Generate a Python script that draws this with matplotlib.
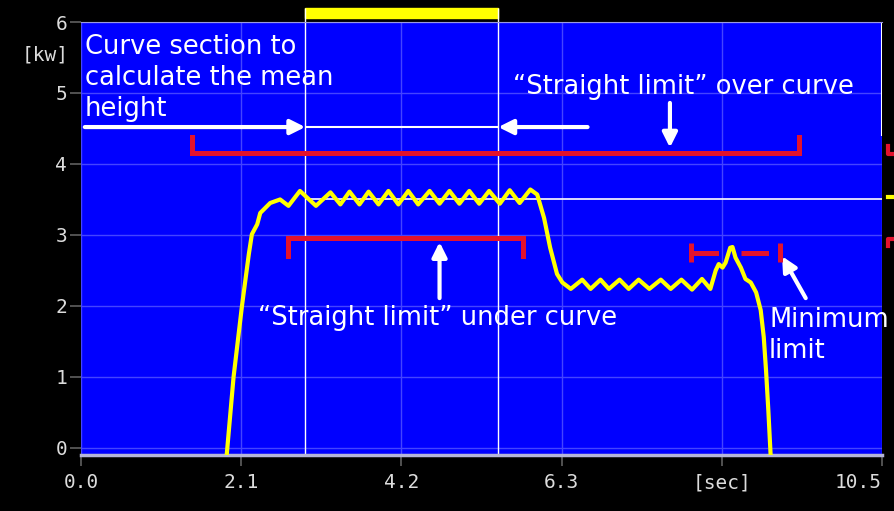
import matplotlib
matplotlib.use('Agg')
import matplotlib.pyplot as plt
from matplotlib.patches import Rectangle
from matplotlib.lines import Line2D

# power curve (time in sec, power in kW)
curve_t = [1.91, 2.00, 2.11, 2.20, 2.24, 2.31, 2.35, 2.48, 2.61, 2.72, 2.87,
           3.08, 3.27, 3.40, 3.52, 3.65, 3.77, 3.90, 4.03, 4.16, 4.29, 4.42,
           4.57, 4.70, 4.83, 4.96, 5.09, 5.22, 5.35, 5.49, 5.62, 5.75, 5.89,
           5.98, 6.07, 6.15, 6.24, 6.31, 6.42, 6.57, 6.68, 6.81, 6.92, 7.06,
           7.18, 7.31, 7.45, 7.60, 7.73, 7.87, 8.01, 8.14, 8.25, 8.32, 8.36,
           8.41, 8.45, 8.51, 8.54, 8.58, 8.65, 8.71, 8.78, 8.85, 8.91, 8.95,
           8.98, 9.01, 9.04]
curve_kw = [-0.1, 1.0, 2.0, 2.73, 3.01, 3.15, 3.31, 3.45, 3.50, 3.41, 3.62,
            3.41, 3.60, 3.43, 3.61, 3.43, 3.61, 3.43, 3.62, 3.43, 3.62, 3.43,
            3.62, 3.44, 3.62, 3.44, 3.62, 3.44, 3.62, 3.44, 3.63, 3.45, 3.64,
            3.57, 3.24, 2.82, 2.45, 2.33, 2.24, 2.37, 2.24, 2.37, 2.24, 2.37,
            2.24, 2.37, 2.24, 2.37, 2.24, 2.37, 2.23, 2.38, 2.24, 2.50, 2.59,
            2.54, 2.61, 2.82, 2.83, 2.68, 2.54, 2.38, 2.33, 2.19, 1.94, 1.56,
            1.09, 0.53, -0.1]

x_ticks = [0.0, 2.1, 4.2, 6.3, 8.4, 10.5]
x_labels = ['0.0', '2.1', '4.2', '6.3', '[sec]', '10.5']
y_ticks = [0, 1, 2, 3, 4, 5, 6]

section = [2.94, 5.47]          # curve section for the mean height
mean_height = 3.5
over_limit = [1.46, 9.41, 4.15]   # x from, x to, level
under_limit = [2.72, 5.80, 2.96]
min_limit = [8.0, 9.16, 2.75]

red = '#e3122d'
mono = 'DejaVu Sans Mono'
fs = 18.5

fig = plt.figure(figsize=(8.95, 5.11), dpi=100, facecolor='black')
ax = fig.add_axes([81/895, 56/511, 801/895, 433/511])
ax.set_facecolor('#0000ff')
ax.set_xlim(0, 10.5)
ax.set_ylim(-0.1, 6)
ax.set_xticks(x_ticks, x_labels)
ax.set_yticks(y_ticks)
ax.grid(color='#4444ff', lw=1)
ax.set_axisbelow(True)
for s in ['left', 'right']:
    ax.spines[s].set_visible(False)
ax.spines['top'].set_color('#9a9ae0')
ax.spines['bottom'].set_color('#b4b4d8')
ax.spines['bottom'].set_linewidth(2.5)
ax.tick_params(colors='#606060', length=8, width=1.2, labelcolor='#dcdcdc',
               labelsize=14)
ax.tick_params(axis='y', pad=2)
ax.tick_params(axis='x', pad=5)
for lab in ax.get_xticklabels() + ax.get_yticklabels():
    lab.set_family(mono)
ax.get_xticklabels()[-1].set_ha('right')
fig.text(45/895, 1 - 55/511, '[kw]', color='#dcdcdc', family=mono,
         fontsize=14, ha='center', va='center')

# mean height line and section markers
ax.hlines(mean_height, section[0], 10.5, colors='white', lw=1.2, zorder=2)
ax.vlines(section, -0.1, 6.2, colors='white', lw=1, clip_on=False, zorder=2)
ax.add_patch(Rectangle((section[0], 6.06), section[1] - section[0], 0.14,
                       color='#ffff00', clip_on=False))
ax.vlines(10.5, 4.4, 6, colors='white', lw=1.5)

ax.plot(curve_t, curve_kw, color='#ffff00', lw=3, solid_joinstyle='round',
        zorder=3)

# red limits
x0, x1, y = over_limit
ax.plot([x0, x0, x1, x1], [y + 0.23, y, y, y + 0.23], color=red, lw=3.6,
        solid_joinstyle='miter', zorder=4)
x0, x1, y = under_limit
ax.plot([x0, x0, x1, x1], [y - 0.26, y, y, y - 0.26], color=red, lw=3.6,
        solid_joinstyle='miter', zorder=4)
x0, x1, y = min_limit
ax.plot([x0, x1], [y, y], color=red, lw=3.6, dashes=(5.5, 4.5), zorder=4)
ax.vlines([x0, x1], y - 0.13, y + 0.13, colors=red, lw=3.6, zorder=4)

# arrows
arrow = dict(arrowstyle='-|>', lw=3, color='white', mutation_scale=22,
             shrinkA=0, shrinkB=0)
ax.annotate('', xy=(section[0], 4.52), xytext=(0.05, 4.52), arrowprops=arrow)
ax.annotate('', xy=(section[1], 4.52), xytext=(6.64, 4.52), arrowprops=arrow)
ax.hlines(4.52, section[0], section[1], colors='white', lw=1.5)
ax.annotate('', xy=(7.72, 4.23), xytext=(7.72, 4.86), arrowprops=arrow)
ax.annotate('', xy=(4.70, 2.90), xytext=(4.70, 2.11), arrowprops=arrow)
ax.annotate('', xy=(9.19, 2.70), xytext=(9.50, 2.11), arrowprops=arrow)

# texts
ax.text(0.05, 5.83, 'Curve section to\ncalculate the mean\nheight',
        color='white', fontsize=fs, va='top', ha='left', linespacing=1.25)
ax.text(5.66, 5.08, '\u201cStraight limit\u201d over curve', color='white',
        fontsize=fs, va='center', ha='left')
ax.text(2.32, 1.83, '\u201cStraight limit\u201d under curve', color='white',
        fontsize=fs, va='center', ha='left')
ax.text(9.02, 1.58, 'Minimum\nlimit', color='white', fontsize=fs,
        va='center', ha='left', linespacing=1.25)

# cut-off legend pieces at the right border
W, H = 895, 511
for xs, ys, c in [([895, 888, 888], [154, 154, 146], red),
                  ([888, 895], [197, 197], '#ffff00'),
                  ([895, 888, 888], [239, 239, 246], red)]:
    fig.add_artist(Line2D([v / W for v in xs], [1 - v / H for v in ys],
                          color=c, lw=3, transform=fig.transFigure))

plt.savefig('out.png', dpi=100, facecolor='black')
